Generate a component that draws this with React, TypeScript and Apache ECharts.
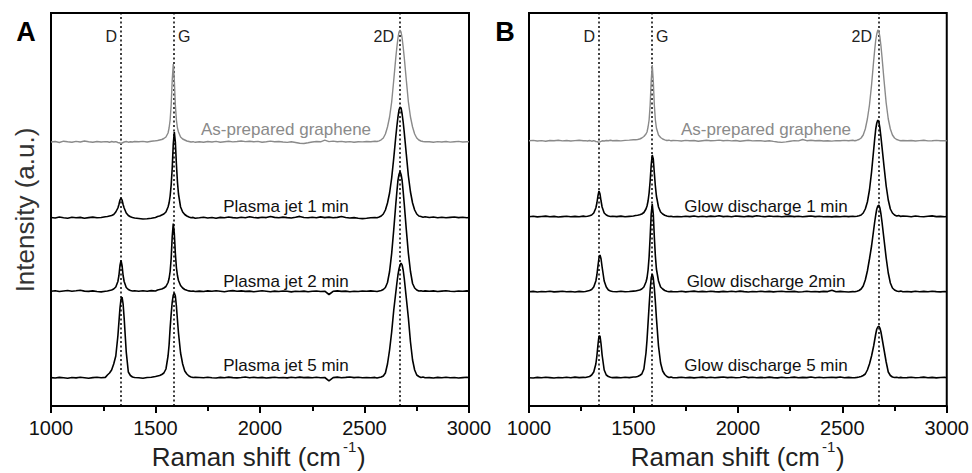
import React, { useEffect, useRef } from "react";
import * as echarts from "echarts";

// Raman shift sampling positions (cm-1)
const ramanShift = [
  1000, 1020, 1040, 1060, 1080, 1100, 1120, 1140, 1160, 1180, 1200, 1220, 1240, 1260,
  1270, 1280, 1290, 1300, 1310, 1320, 1325, 1330, 1335, 1340, 1345, 1350, 1360, 1370, 1380, 1390, 1400,
  1420, 1440, 1460, 1480, 1500,
  1510, 1520, 1530, 1540, 1550, 1560, 1565, 1570, 1575, 1580, 1585, 1590, 1595, 1600, 1605, 1610, 1620, 1630, 1640, 1650, 1660, 1670, 1680, 1690,
  1710, 1730, 1750, 1770, 1790, 1810, 1830, 1850, 1870, 1890, 1910, 1930, 1950, 1970, 1990, 2010, 2030, 2050, 2070, 2090, 2110, 2130, 2150, 2170, 2190, 2210, 2230, 2250, 2270, 2290, 2310, 2330, 2350, 2370, 2390, 2410, 2430, 2450, 2470, 2490, 2510, 2530, 2550,
  2560, 2570, 2580, 2590, 2600, 2610, 2620, 2630, 2640, 2650, 2655, 2660, 2665, 2670, 2675, 2680, 2685, 2690, 2700, 2710, 2720, 2730, 2740, 2750, 2760, 2770, 2780, 2790,
  2810, 2830, 2850, 2870, 2890, 2910, 2930, 2950, 2970, 2990, 3000,
];

// Panel A intensities (a.u., above each trace's own baseline)
const asPreparedA = [
  0, 0.5, -0.5, 0.8, 0.2, -0.3, 0.6, 0, 1, 0.3, -0.2, 0.5, 0, 0.4,
  0.2, -0.3, 0.5, 0, 0.3, -0.5, -0.8, -1, -1.5, -1, -0.5, 0, 0.5, -0.2, 0.3, 0, 0.5,
  0.2, 0.6, 0, 0.8, 1.2,
  1.5, 2, 2.5, 3.5, 5, 9, 14, 22, 37, 62, 78, 62, 37, 22, 14, 10, 5, 3, 2, 1, 0.5, 0, 0.3, -0.3,
  0.3, -0.2, 0.5, 0, 0.6, -0.3, 0.2, 0.7, 0.1, 0.5, 1, 0.4, 0.8, 0.2, 0.6, -0.2, 0.3, 0.9, 0.2, 0.5, 0, -0.4, 0.2, -0.5, -1.2, -1.5, -0.8, 0, 0.5, 0.2, 1.8, 0.4, 0.9, 0.3, 0.6, 0, 0.4, -0.2, 0.3, 0.1, 0.5, 0.3, 0.8,
  0.5, 1.2, 2.2, 4, 8, 15, 25, 40, 62, 85, 95, 104, 110, 112, 110, 104, 95, 85, 62, 40, 25, 15, 8, 4, 2, 1, 0.5, 0.2,
  0.3, -0.2, 0.4, 0, 0.5, -0.1, 0.3, 0.6, 0, 0.2, 0.3,
];
const plasmaJet1 = [
  0.5, 0, 1, 0.3, -0.2, 0.8, 0.2, 0.6, -0.3, 0.4, 0.9, 0.2, 0.5, 1.2,
  1.5, 2, 2.5, 3.5, 6, 10, 13.5, 18, 20, 18, 13.5, 10, 5, 2.5, 1.2, 0.5, 0,
  -0.5, -1, -0.8, -0.2, 0.5,
  1.5, 2, 3, 4, 6, 11, 15, 22, 33, 50, 74, 86, 76, 54, 36, 24, 11, 6, 3.5, 2, 1, 0.3, 0.6, -0.2,
  0.2, 0.8, 0, 0.5, -0.3, 0.6, 0.2, 1, 0.4, 0, 0.7, 0.3, 1.2, 0.5, 0.1, 0.8, 0.4, 1.5, 0.6, 0.2, 0.9, 0.4, 0, 0.7, 1.6, 0.5, 0.2, 0.8, 0.3, 1.1, 0.4, 0.9, 0.2, 0.6, 1.5, 0.5, 0, 0.4, -0.2, -0.6, -0.3, 0.2, 0.5,
  0.3, 1, 2, 4, 8, 15, 25, 40, 60, 82, 92, 101, 108, 111, 110, 104, 96, 86, 64, 42, 26, 15, 8, 4, 2, 1.5, 0.8, 1.2,
  0.5, 1, 0.3, 0.8, 0.2, 0.6, 1, 0.4, 0.7, 0.3, 0.5,
];
const plasmaJet2 = [
  0.3, 0.8, 0, 0.5, 1, 0.2, 0.7, 1.3, 0.4, 0.1, 0.6, 0, -0.4, 0.2,
  0.5, 1, 1.5, 2.5, 4.5, 10, 16, 26, 31, 26, 16, 10, 4, 2, 1, 0.5, 0.8,
  0.3, 0.7, 0.2, 0.9, 0.5,
  1.5, 2, 2.5, 3.5, 5, 9, 13, 20, 33, 55, 68, 58, 38, 24, 16, 11, 6, 3.5, 2, 1.2, 0.6, 0.2, 0.5, 0,
  0.4, 0, 0.6, 0.2, 0.8, 0.3, -0.2, 0.5, 0.9, 0.3, 0.6, 0.1, 0.4, -0.3, 0.2, 0.7, 0.3, -0.2, 0.4, 0, 0.5, 0.2, -0.4, 0.3, 0, 0.4, -0.3, 0.2, 0.5, 0, 0.3, -3, 0.2, 0.6, 0.1, 0.4, -0.2, 0.3, 0, 0.5, 0.2, 0.6, 0.3,
  0, 0.5, 1, 2, 4, 9, 20, 38, 62, 88, 100, 111, 117, 120, 117, 111, 100, 88, 62, 38, 20, 8, 3.5, 1.5, 0.5, 0.8, 0.3, 0.6,
  0.2, 0.6, 0, 0.4, 0.8, 0.3, 0, 0.5, 0.2, 0.6, 0.4,
];
const plasmaJet5 = [
  0.4, 0, 0.6, 0.2, -0.3, 0.5, 0.1, 0.7, 0.3, -0.2, 0.4, 0.8, 0.2, 0.6,
  3, 5, 8, 14, 22, 42, 56, 70, 79, 81, 74, 60, 26, 6, 2.5, 1, 0.5,
  0.3, -0.2, 0.5, 0.8, 1.5,
  2, 2.5, 3.5, 5, 9, 22, 33, 50, 64, 76, 83, 85, 82, 72, 58, 45, 25, 14, 7, 4, 2, 1, 0.5, 0.8,
  0.5, 0.2, 0.8, 0.3, 0, 0.6, 0.2, 0.9, 0.4, 0.1, 0.5, 1, 0.3, 0.7, 0.2, 0.6, 0, 0.4, 0.8, 0.3, 0.5, 0.1, 0.7, 0.2, 0.9, 0.4, 0.6, 0.3, 0.8, 0.2, 0.5, -2.8, 0.4, 0.9, 0.3, 0.6, 1, 0.4, 0.7, 0.2, 0.5, 0.3, 0.6,
  0, 0.5, 1, 2, 5, 14, 28, 46, 68, 86, 95, 103, 109, 113, 115, 113, 108, 100, 80, 60, 36, 18, 8, 3, 1.5, 0.5, 1, 0.3,
  0.4, 0, 0.6, 0.2, 0.8, 0.3, 0.5, 0, 0.4, 0.7, 0.3,
];

// Panel B intensities
const asPreparedB = [
  0.2, 0.6, 0, 0.4, -0.2, 0.5, 0.3, 0.8, 0.1, 0.5, 0, 0.4, 0.7, 0.2,
  0.4, 0, 0.5, -0.2, 0.3, -0.5, -0.6, -1, -1.2, -0.8, -0.3, 0.2, 0, 0.5, 0.2, 0.7, 0.3,
  0.5, 0.1, 0.6, 0.9, 1.3,
  1.3, 1.5, 2, 3, 4.5, 7, 9, 14, 21, 36, 60, 76, 60, 36, 21, 13, 6, 3.5, 2, 1.2, 0.5, 0.8, 0.2, 0.5,
  0.4, 0, 0.6, 0.2, 0.5, -0.2, 0.3, 0.8, 0.2, 0.4, 0.9, 0.3, 0.6, 0.1, 0.5, -0.3, 0.2, 0.7, 0.1, 0.4, 0.2, -0.2, 0.3, -0.4, -1, -1.4, -0.9, -0.2, 0.4, 0.1, 1.5, 0.3, 0.8, 0.2, 0.5, 0, 0.3, -0.1, 0.4, 0.2, 0.6, 0.3, 0.7,
  0.3, 0.8, 1.5, 3, 6, 12, 22, 36, 56, 80, 91, 101, 107, 111, 110, 104, 95, 84, 60, 38, 22, 12, 6, 3, 1.5, 0.8, 0.3, 0.5,
  0.2, 0.5, 0, 0.4, 0.7, 0.1, 0.3, 0.6, 0.2, 0.4, 0.3,
];
const glowDischarge1 = [
  0.3, 0.7, 0.1, 0.5, 0.9, 0.2, 0.6, 0, 0.4, 0.8, 0.3, 0.6, 0.2, 0.9,
  0.5, 0.8, 1.2, 2, 4, 9, 14, 21, 26, 23, 16, 10, 4, 2, 1, 0.5, 0.8,
  0.4, 0.9, 0.2, 0.6, 1,
  1.5, 1.8, 2.2, 3, 4.5, 8, 11, 16, 24, 36, 52, 62, 58, 44, 31, 21, 10, 5, 3, 1.8, 1, 0.5, 0.8, 0.3,
  0.5, 0.2, 0.8, 0.4, 1, 0.3, 0.7, 0.2, 0.9, 0.5, 1.2, 0.4, 0.8, 0.3, 1, 0.6, 0.2, 0.9, 0.4, 1.3, 0.7, 0.3, 1, 0.5, 0.8, 0.2, 0.6, 0.9, 0.4, 0.7, 0.2, 0.6, 1, 0.4, 0.8, 0.3, 0.5, 0.1, 0.6, 0.3, 0.7, 0.4, 0.8,
  0.5, 0.8, 1.2, 2, 4, 8, 15, 27, 45, 67, 78, 88, 94, 97, 95, 89, 80, 70, 50, 31, 17, 8, 4, 2, 1, 1.4, 0.6, 1,
  0.8, 0.3, 1, 0.5, 0.2, 0.7, 1.1, 0.4, 0.6, 0.2, 0.5,
];
const glowDischarge2 = [
  0.2, 0.6, 0, 0.5, 0.3, 0.8, 0.1, 0.4, 0.7, 0.2, 0.5, 0, 0.6, 0.3,
  0.5, 1, 1.5, 2.5, 5, 11, 17, 26, 34, 37, 33, 25, 11, 5, 2, 1, 0.5,
  0.3, 0.8, 0.2, 0.5, 0.9,
  1, 1.5, 2, 3, 5, 10, 14, 22, 35, 55, 78, 88, 78, 55, 36, 23, 11, 5, 3, 1.5, 0.8, 0.3, 0.6, 0.2,
  0.3, 0.7, 0.1, 0.5, 0.9, 0.2, 0.6, 0.3, 0.8, 0.4, 0.1, 0.6, 0.2, 0.7, 0.3, 0.9, 0.4, 0, 0.5, 0.2, 0.7, 0.3, 0.6, 0.1, 0.5, 0.8, 0.2, 0.4, 0.6, 0, 0.3, 0.7, 0.2, 0.5, 0.1, 0.6, 0.4, 1.8, 0.2, 0.6, 0.3, 0, 0.4,
  0.3, 0.8, 1.5, 3, 6, 12, 21, 33, 46, 62, 70, 77, 83, 86, 87, 84, 78, 70, 52, 34, 19, 9, 4, 2, 1, 0.5, 0.9, 0.3,
  0.5, 0.1, 0.7, 0.3, 0.6, 0.2, 0.8, 0.4, 0.1, 0.5, 0.3,
];
const glowDischarge5 = [
  0.3, 0, 0.6, 0.2, 0.8, 0.4, 0, 0.5, 0.2, 0.7, 0.3, 0.9, 0.4, 0.6,
  0.5, 1, 1.5, 3, 6, 14, 22, 33, 42, 42, 34, 23, 8, 3, 1.5, 0.8, 0.4,
  0.6, 0.2, 0.7, 0.4, 1,
  1, 1.5, 2.5, 4, 9, 25, 38, 55, 72, 88, 100, 104, 100, 90, 76, 60, 32, 15, 7, 3.5, 1.5, 0.5, 0.9, 0.2,
  0.4, 0.8, 0.2, 0.6, 0.1, 0.5, 0.9, 0.3, 0.7, 0.2, 0.6, 1, 0.4, 0.8, 0.3, 0.5, 1.2, 0.4, 0.7, 0.2, 0.6, 0.3, 0.9, 0.4, 0.1, 0.7, 0.3, 0.5, 0.9, 0.2, 0.6, 0.4, 1, 0.3, 0.7, 0.2, 0.5, 0.8, 0.4, 1, 0.3, 0.6, 0.2,
  0.3, 0.6, 1, 1.5, 2.5, 4, 8, 14, 22, 32, 38, 44, 49, 51, 52, 50, 46, 40, 28, 16, 6, 2.5, 1, 0.5, 0.8, 0.2, 0.6, 0.3,
  0.4, 0.7, 0.2, 0.5, 0.9, 0.3, 0.6, 0.1, 0.5, 0.8, 0.3,
];

// vertical stacking offsets of the traces (a.u.)
const offsetsA = [264, 188, 114.5, 28];
const offsetsB = [265, 189, 114, 28];
const namesA = ["As-prepared graphene", "Plasma jet 1 min", "Plasma jet 2 min", "Plasma jet 5 min"];
const namesB = ["As-prepared graphene", "Glow discharge 1 min", "Glow discharge 2min", "Glow discharge 5 min"];
const bandPositionsA = [1335, 1585, 2670];
const bandPositionsB = [1336, 1587, 2674];
const bandNames = ["D", "G", "2D"];
const xTicks = [1000, 1500, 2000, 2500, 3000];

const FONT = "'Liberation Sans', Arial, Helvetica, sans-serif";
const GRAY = "#8a8a8a";

export default function App() {
  const ref = useRef<HTMLDivElement>(null);
  useEffect(() => {
    if (!ref.current) return;
    const chart = echarts.init(ref.current, null, { renderer: "svg" });

    const spectraA = [asPreparedA, plasmaJet1, plasmaJet2, plasmaJet5];
    const spectraB = [asPreparedB, glowDischarge1, glowDischarge2, glowDischarge5];

    const grids = [
      { left: 51, top: 13, width: 418, height: 393 },
      { left: 529, top: 13, width: 418, height: 393 },
    ];

    const xAxisBase = {
      type: "value",
      min: xTicks[0],
      max: xTicks[xTicks.length - 1],
      interval: xTicks[1] - xTicks[0],
      axisLine: { show: true, onZero: false, lineStyle: { color: "#000", width: 2 } },
      axisTick: { show: true, inside: false, length: 7, lineStyle: { color: "#000", width: 2 } },
      minorTick: { show: true, splitNumber: 2, length: 5, lineStyle: { color: "#000", width: 2 } },
      axisLabel: {
        fontSize: 20,
        color: "#111",
        margin: 12,
        fontFamily: FONT,
        formatter: (v: number) => String(v),
      },
      splitLine: { show: false },
      minorSplitLine: { show: false },
    };
    const yAxisBase = {
      type: "value",
      min: 0,
      max: 393,
      axisLine: { show: false },
      axisTick: { show: false },
      axisLabel: { show: false },
      splitLine: { show: false },
    };

    const makeSeries = (spectra: number[][], offsets: number[], bands: number[], gi: number) =>
      spectra.map((s, k) => ({
        type: "line",
        xAxisIndex: gi,
        yAxisIndex: gi,
        symbol: "none",
        showSymbol: false,
        silent: true,
        z: 3,
        lineStyle: { color: k === 0 ? GRAY : "#000", width: k === 0 ? 1.4 : 1.6 },
        data: ramanShift.map((x, i) => [x, offsets[k] + s[i]]),
        markLine:
          k === 0
            ? {
                silent: true,
                symbol: ["none", "none"],
                label: { show: false },
                lineStyle: { color: "#000", type: [2, 2.5], width: 1.5 },
                data: bands.map((b) => ({ xAxis: b })),
                z: 2,
              }
            : undefined,
      }));

    const txt = (x: number, y: number, text: string, extra: any = {}) => ({
      type: "text",
      x,
      y,
      silent: true,
      style: {
        text,
        fontFamily: FONT,
        fontSize: 17,
        fill: "#111",
        textAlign: "center",
        textVerticalAlign: "middle",
        ...extra,
      },
    });

    const labelY = [129, 206, 281, 365];
    const graphic: any[] = [
      txt(26, 32, "A", { fontSize: 27, fontWeight: "bold", fill: "#000" }),
      txt(505, 32, "B", { fontSize: 27, fontWeight: "bold", fill: "#000" }),
      // band labels
      txt(117, 36, bandNames[0], { textAlign: "right", fontSize: 16, fill: "#222" }),
      txt(178, 36, bandNames[1], { textAlign: "left", fontSize: 16, fill: "#222" }),
      txt(394, 36, bandNames[2], { textAlign: "right", fontSize: 16, fill: "#222" }),
      txt(595, 36, bandNames[0], { textAlign: "right", fontSize: 16, fill: "#222" }),
      txt(656, 36, bandNames[1], { textAlign: "left", fontSize: 16, fill: "#222" }),
      txt(872, 36, bandNames[2], { textAlign: "right", fontSize: 16, fill: "#222" }),
      // axis titles
      {
        type: "text",
        x: 25,
        y: 210,
        rotation: Math.PI / 2,
        silent: true,
        style: {
          text: "Intensity (a.u.)",
          fontFamily: FONT,
          fontSize: 26,
          fill: "#333",
          textAlign: "center",
          textVerticalAlign: "middle",
        },
      },
      txt(341, 457, "Raman shift (cm", { textAlign: "right", fontSize: 26, fill: "#222" }),
      txt(343, 446, "-1", { textAlign: "left", fontSize: 15, fill: "#222" }),
      txt(357, 457, ")", { textAlign: "left", fontSize: 26, fill: "#222" }),
      txt(820, 457, "Raman shift (cm", { textAlign: "right", fontSize: 26, fill: "#222" }),
      txt(822, 446, "-1", { textAlign: "left", fontSize: 15, fill: "#222" }),
      txt(836, 457, ")", { textAlign: "left", fontSize: 26, fill: "#222" }),
    ];
    namesA.forEach((n, k) => graphic.push(txt(286, labelY[k], n, { fill: k === 0 ? GRAY : "#111" })));
    namesB.forEach((n, k) => graphic.push(txt(766, labelY[k], n, { fill: k === 0 ? GRAY : "#111" })));

    chart.setOption({
      animation: false,
      backgroundColor: "#fff",
      grid: grids.map((g) => ({
        ...g,
        show: true,
        borderColor: "#000",
        borderWidth: 2,
        backgroundColor: "transparent",
      })),
      xAxis: [
        { ...xAxisBase, gridIndex: 0 },
        { ...xAxisBase, gridIndex: 1 },
      ],
      yAxis: [
        { ...yAxisBase, gridIndex: 0 },
        { ...yAxisBase, gridIndex: 1 },
      ],
      series: [
        ...makeSeries(spectraA, offsetsA, bandPositionsA, 0),
        ...makeSeries(spectraB, offsetsB, bandPositionsB, 1),
      ],
      graphic,
    });

    return () => chart.dispose();
  }, []);

  return (
    <div
      ref={ref}
      style={{ position: "fixed", left: 0, top: 0, width: 972, height: 473, background: "#fff" }}
    />
  );
}
